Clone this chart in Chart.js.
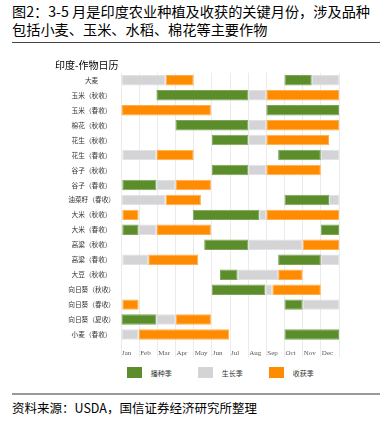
<!DOCTYPE html>
<html><head><meta charset="utf-8">
<script src="https://cdn.jsdelivr.net/npm/chart.js@4/dist/chart.umd.min.js"></script>
<style>
html,body{margin:0;padding:0;background:#fff;}
#wrap{position:relative;width:389px;height:436px;overflow:hidden;font-family:"Noto Sans CJK SC",sans-serif;}
.t{position:absolute;left:12px;font-size:14.2px;color:#000;white-space:nowrap;line-height:17px;}
.lg{position:absolute;top:367.3px;width:15px;height:11px;}
.lt{position:absolute;top:368.6px;font-size:7px;line-height:8px;color:#333;white-space:nowrap;}
</style></head><body>
<div id="wrap">
<div class="t" style="top:3.4px">图2：3-5 月是印度农业种植及收获的关键月份，涉及品种</div>
<div class="t" style="top:20.7px">包括小麦、玉米、水稻、棉花等主要作物</div>
<div style="position:absolute;left:12px;top:42px;width:368px;height:1.3px;background:#444"></div>
<canvas id="c" style="position:absolute;left:0;top:0;width:389px;height:362px" width="389" height="362"></canvas>
<div class="lg" style="left:126.7px;background:#5b8e2a"></div><div class="lt" style="left:150.7px">播种季</div>
<div class="lg" style="left:197.7px;background:#d4d3d6"></div><div class="lt" style="left:221.7px">生长季</div>
<div class="lg" style="left:269px;background:#ff8c00"></div><div class="lt" style="left:292.7px">收获季</div>
<div style="position:absolute;left:12px;top:393px;width:368px;height:2px;background:#999"></div>
<div style="position:absolute;left:12px;top:399.8px;font-size:12.5px;line-height:15px;color:#000;white-space:nowrap">资料来源：USDA，国信证券经济研究所整理</div>
</div>
<script>
const crops = ['大麦','玉米（秋收）','玉米（春收）','棉花（秋收）','花生（秋收）','花生（春收）','谷子（秋收）','谷子（春收）','油菜籽（春收）','大米（秋收）','大米（春收）','高粱（秋收）','高粱（春收）','大豆（秋收）','向日葵（秋收）','向日葵（春收）','向日葵（夏收）','小麦（春收）'];
const months = ['Jan','Feb','Mar','Apr','May','Jun','Jul','Aug','Sep','Oct','Nov','Dec'];
// segments per crop, [startMonth, endMonth] with 0 = start of Jan, 12 = end of Dec
const sowing = [
 [[9,10.5]],
 [[1.95,7]],
 [[8,12]],
 [[3,7]],
 [[5,7]],
 [[8.65,11]],
 [[5,7]],
 [[0.07,1.95]],
 [[9,11.45]],
 [[3.95,7.6]],
 [[0.07,0.97],[11,12]],
 [[4.58,7]],
 [[8.65,11]],
 [[5.45,6.42]],
 [[5,7.95]],
 [[9,10]],
 [[0,1.95]],
 [[9,12]]
];
const growing = [
 [[0,2.45],[10.5,12]],
 [[7,8]],
 [],
 [[7,8]],
 [[7,8]],
 [[0.07,1.95],[11,12]],
 [[7,8]],
 [[1.95,3]],
 [[0,2.45],[11.45,12]],
 [[7.6,8]],
 [[0.97,1.95]],
 [[7,10]],
 [[0.07,1.5],[11,12]],
 [[6.42,8.65]],
 [[7.95,8.33]],
 [[10,12]],
 [[1.95,3]],
 [[0,0.97]]
];
const harvest = [
 [[2.45,4]],
 [[8,12]],
 [[0,4.95]],
 [[8,12]],
 [[8,11.45]],
 [[1.95,4]],
 [[8,11]],
 [[3,4.95]],
 [[2.45,4.4]],
 [[0.07,0.97],[8,12]],
 [[1.95,4.95]],
 [[10,12]],
 [[1.5,4.25]],
 [[8.65,10]],
 [[8.33,11]],
 [[0.07,0.97]],
 [[3,4.95]],
 [[0.97,5.95]]
];
function build(segs, label, bg, bd){
  const n = Math.max(...segs.map(s=>s.length));
  const out=[];
  for(let k=0;k<n;k++) out.push({label, data: segs.map(s=> s[k]?s[k]:null),
    backgroundColor:bg, borderColor:bd, borderWidth:1, borderSkipped:false,
    grouped:false, barPercentage:0.7, categoryPercentage:1});
  return out;
}
const datasets = [].concat(
  build(sowing,'播种季','#5b8e2a','#7ea55a'),
  build(growing,'生长季','#d4d3d6','#e2e2e4'),
  build(harvest,'收获季','#ff8c00','#ffae4d')
);
new Chart(document.getElementById('c'), {
  type:'bar',
  data:{labels:crops, datasets},
  options:{
    indexAxis:'y',
    responsive:false,
    animation:false,
    layout:{padding:{top:59,bottom:0,left:55,right:50}},
    plugins:{
      legend:{display:false},
      tooltip:{enabled:false},
      title:{display:true,text:'印度-作物日历',align:'start',color:'#000',
        font:{family:'"Noto Sans CJK SC"',size:10,weight:'normal',lineHeight:1.2},
        padding:{top:0,bottom:1.8}}
    },
    scales:{
      x:{type:'linear',min:0,max:12,position:'bottom',
        afterFit(s){s.height=20;},
        border:{display:false},
        grid:{color:'#ebebeb',lineWidth:1,drawTicks:true,tickLength:15,tickColor:'#ebebeb'},
        ticks:{stepSize:1,autoSkip:false,maxRotation:0,minRotation:0,align:'start',labelOffset:1,padding:-7.8,
          color:'#595959',font:{family:'"Liberation Serif"',size:7},
          callback:(v)=> months[v] !== undefined ? months[v] : ''}
      },
      y:{type:'category',
        afterFit(s){s.width=66;},
        border:{display:false},
        grid:{display:false,drawTicks:false},
        ticks:{crossAlign:'center',padding:6,color:'#333',autoSkip:false,
          font:{family:'"Noto Sans CJK SC"',size:6.7}}
      }
    }
  }
});
</script>
</body></html>
